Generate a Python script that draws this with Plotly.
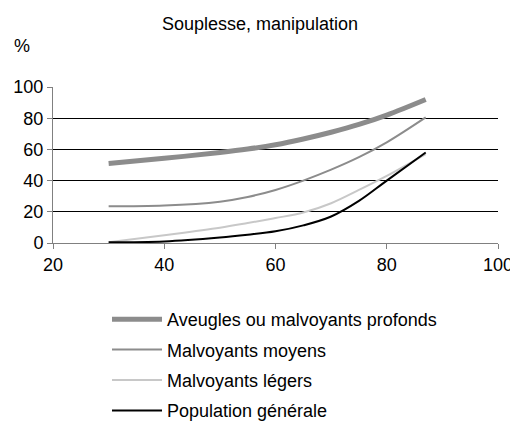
import plotly.graph_objects as go

# Data (age vs. %)
ages = [30, 40, 50, 55, 60, 65, 70, 75, 80, 87]
aveugles = [51, 54.3, 58, 60.2, 63, 66.7, 71, 76, 82, 92]
moyens = [23.5, 24, 26.5, 29.5, 34, 40, 47, 55, 64.5, 80.5]
legers = [0.5, 5, 9.8, 12.8, 16, 19.5, 25.5, 34, 43, 57]
population = [0.5, 1, 3.5, 5.3, 7.5, 11.3, 17, 27, 40, 58]

series = [
    ("Aveugles ou malvoyants profonds", aveugles, "#8c8c8c", 5),
    ("Malvoyants moyens", moyens, "#8c8c8c", 2),
    ("Malvoyants légers", legers, "#c8c8c8", 2),
    ("Population générale", population, "#000000", 2),
]

FONT = "Liberation Sans, Arial, sans-serif"
# page has an 8px body margin, so the figure is drawn 8px smaller
W, H = 510, 415

fig = go.Figure()
for i, (name, vals, color, width) in enumerate(series):
    fig.add_trace(
        go.Scatter(
            x=ages,
            y=vals,
            name=name,
            mode="lines",
            line=dict(color=color, width=width, shape="spline", smoothing=1.0),
            legendgroup=str(i),
        )
    )

fig.update_layout(
    width=W,
    height=H,
    margin=dict(l=45, r=20, t=79, b=180, autoexpand=False),
    paper_bgcolor="white",
    plot_bgcolor="white",
    font=dict(family=FONT, size=18, color="black"),
    title=dict(
        text="Souplesse, manipulation",
        x=252 / W,
        xanchor="center",
        xref="container",
        y=1 - 16 / H,
        yanchor="middle",
        yref="container",
        font=dict(size=18, family=FONT, color="black"),
    ),
    showlegend=True,
    legend=dict(
        orientation="v",
        x=99 / W,
        xanchor="left",
        xref="container",
        y=1 - 293 / H,
        yanchor="top",
        yref="container",
        tracegroupgap=4,
        font=dict(size=18, family=FONT, color="black"),
        itemwidth=50,
    ),
    annotations=[
        dict(
            text="%",
            xref="paper",
            yref="paper",
            x=-41 / 445,
            y=1 + 41 / 156,
            xanchor="left",
            yanchor="middle",
            showarrow=False,
            font=dict(size=18, family=FONT, color="black"),
        )
    ],
)

fig.update_xaxes(
    range=[20, 100],
    tickvals=[20, 40, 60, 80, 100],
    showgrid=False,
    zeroline=False,
    showline=True,
    linecolor="#808080",
    linewidth=1,
    ticks="outside",
    ticklen=5,
    tickcolor="#808080",
    tickfont=dict(size=18),
)
fig.update_yaxes(
    range=[0, 100],
    tickvals=[0, 20, 40, 60, 80, 100],
    showgrid=True,
    gridcolor="black",
    gridwidth=1,
    zeroline=False,
    showline=True,
    linecolor="#808080",
    linewidth=1,
    ticks="outside",
    ticklen=5,
    tickcolor="#808080",
    tickfont=dict(size=18),
)

fig.write_html("out.html")
